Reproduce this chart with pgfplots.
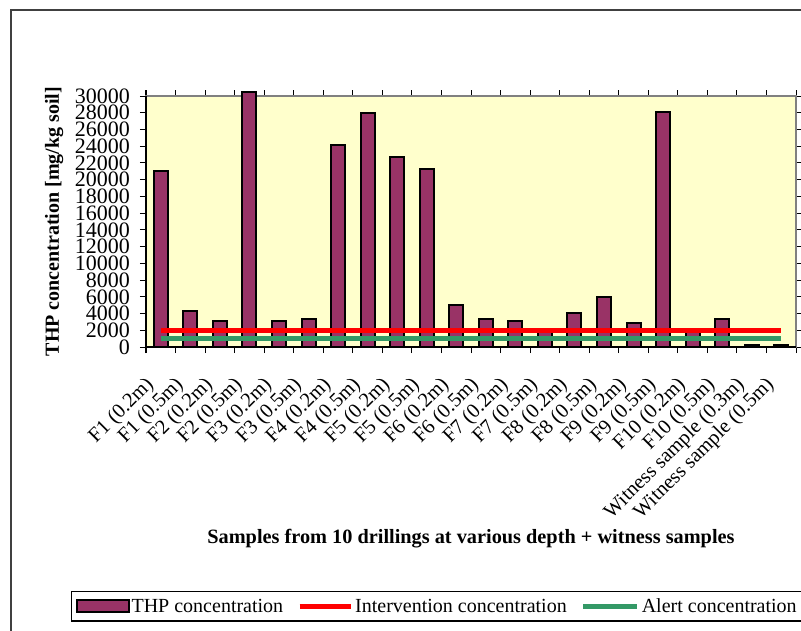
\documentclass[border=0pt]{standalone}
\usepackage{pgfplots}
\usepackage{pgfplotstable}
\pgfplotsset{compat=1.18}
\usepackage{fontspec}
\setmainfont{Liberation Serif}
\definecolor{barc}{HTML}{993366}
\definecolor{plotbg}{HTML}{FFFFCC}
\definecolor{alertg}{HTML}{339966}
\definecolor{framec}{HTML}{404040}
\pgfplotstableread{
x thp interv alert
0 21000 2000 1000
1 4300 2000 1000
2 3100 2000 1000
3 30500 2000 1000
4 3100 2000 1000
5 3400 2000 1000
6 24200 2000 1000
7 28000 2000 1000
8 22700 2000 1000
9 21300 2000 1000
10 5000 2000 1000
11 3400 2000 1000
12 3100 2000 1000
13 1900 2000 1000
14 4100 2000 1000
15 6000 2000 1000
16 2900 2000 1000
17 28100 2000 1000
18 1900 2000 1000
19 3300 2000 1000
20 250 2000 1000
21 200 2000 1000
}\datatable
\begin{document}
\begin{tikzpicture}
\useasboundingbox (0pt,0pt) rectangle (801pt,630pt);
\draw[framec, line width=1.5pt] (11pt,-10pt) -- (11pt,620pt) -- (815pt,620pt);
\begin{axis}[
  at={(146pt,283pt)}, anchor=south west,
  scale only axis, width=650pt, height=251pt,
  xmin=-0.5, xmax=21.5, ymin=0, ymax=30000,
  clip=false,
  axis background/.style={fill=plotbg},
  axis line style={draw=gray, line width=1.5pt},
  ytick={0,2000,...,30000},
  scaled y ticks=false,
  xtick={-0.5,0.5,...,21.5},
  x tick label as interval,
  xticklabels={F1 (0.2m),F1 (0.5m),F2 (0.2m),F2 (0.5m),F3 (0.2m),F3 (0.5m),F4 (0.2m),F4 (0.5m),F5 (0.2m),F5 (0.5m),F6 (0.2m),F6 (0.5m),F7 (0.2m),F7 (0.5m),F8 (0.2m),F8 (0.5m),F9 (0.2m),F9 (0.5m),F10 (0.2m),F10 (0.5m),Witness sample (0.3m),Witness sample (0.5m),},
  tick align=outside,
  major tick length=6pt,
  tick style={black, line width=1pt},
  /pgf/number format/assume math mode=true,
  /pgf/number format/1000 sep={},
  yticklabel style={font=\fontsize{22}{22}\selectfont, inner sep=0pt, xshift=-10pt},
  xticklabel style={font=\fontsize{20.5}{20.5}\selectfont, inner sep=0pt, xshift=-10pt, yshift=-29pt, rotate=45, anchor=east},
  ylabel={THP concentration [mg/kg soil]},
  ylabel style={font=\bfseries\fontsize{20}{20}\selectfont, at={(axis description cs:-0.1415,0.5)}, anchor=center},
  xlabel={Samples from 10 drillings at various depth + witness samples},
  xlabel style={font=\bfseries\fontsize{20.3}{20.3}\selectfont, at={(axis description cs:0.5,-0.765)}, anchor=center},
  legend style={at={(axis description cs:-0.1154,-0.972)}, anchor=north west, legend columns=3, draw=black, line width=1.2pt, font=\fontsize{20}{20}\selectfont, inner xsep=4pt, inner ysep=5pt, /tikz/every even column/.append style={column sep=12pt}},
  legend cell align=left,
]
\addplot[ybar, bar width=14pt, fill=barc, draw=black, line width=2pt,
  legend image code/.code={\draw[fill=barc, draw=black, line width=2pt] (0pt,-6pt) rectangle (52pt,6pt);}]
  table[x=x, y=thp] {\datatable};
\addlegendentry{THP concentration}
\addplot[red, line width=5pt, mark=none,
  legend image code/.code={\draw[red, line width=5pt] (0pt,0pt) -- (51pt,0pt);}]
  table[x=x, y=interv] {\datatable};
\addlegendentry{Intervention concentration}
\addplot[alertg, line width=5pt, mark=none,
  legend image code/.code={\draw[alertg, line width=5pt] (0pt,0pt) -- (54pt,0pt);}]
  table[x=x, y=alert] {\datatable};
\addlegendentry{Alert concentration}
\draw[black, line width=1.5pt] (rel axis cs:0,1) -- (rel axis cs:0,0) -- (rel axis cs:1,0);
\end{axis}
\end{tikzpicture}
\end{document}
